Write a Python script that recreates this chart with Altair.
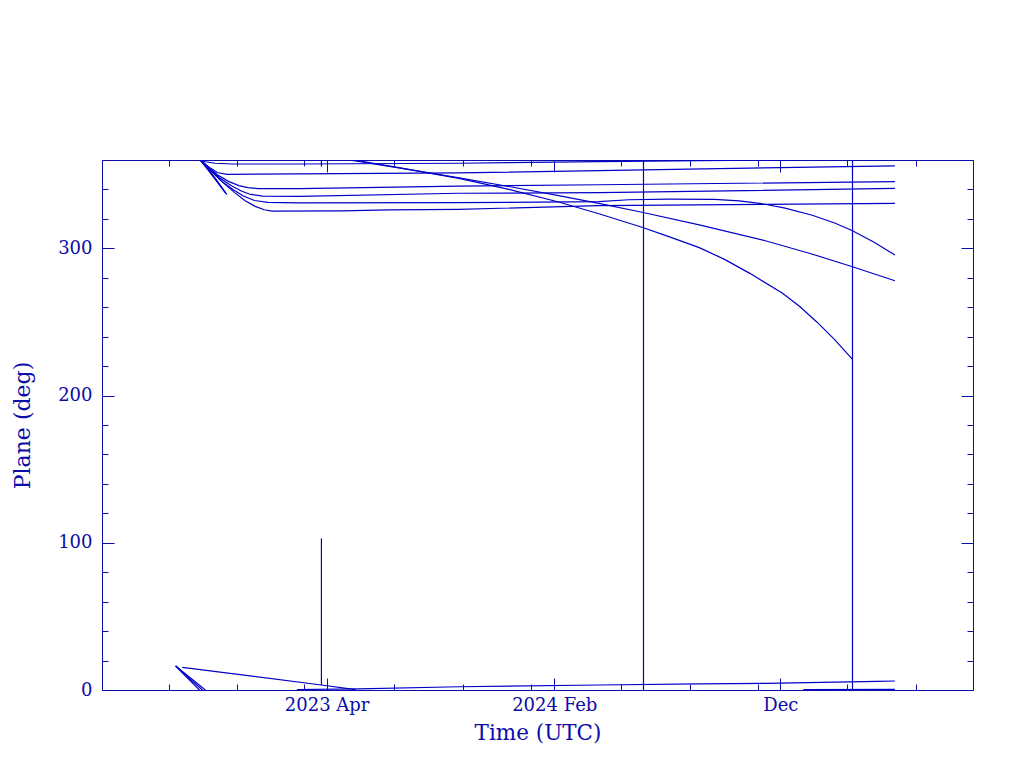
import altair as alt
import pandas as pd

# ---------------- data ----------------
# steep bundle near 16 deg falling to 0 (then wrapping to 360)
st1_d = ["2022-09-10", "2022-10-12"]; st1_v = [16.3, 0.0]
st2_d = ["2022-09-10", "2022-10-16"]; st2_v = [16.3, 0.0]
st3_d = ["2022-09-10", "2022-10-20"]; st3_v = [16.3, 0.0]

# top bundle descending from 360 to plateaus
pa_d = ["2022-10-13", "2022-10-20", "2022-11-02", "2022-11-25", "2023-02-23", "2023-09-26", "2024-04-01", "2024-08-14", "2024-12-15"]
pa_v = [360, 358.8, 357.8, 357.3, 357.3, 357.8, 358.9, 359.5, 360]
paw_d = ["2025-01-01", "2025-05-04"]; paw_v = [0.3, 0.4]

pb_d = ["2022-10-13", "2022-10-25", "2022-11-05", "2022-11-18", "2023-02-23", "2023-09-26", "2024-04-01", "2024-12-01", "2025-05-04"]
pb_v = [360, 355, 351.5, 350.3, 350.6, 351.2, 352.8, 354.8, 356]

pd_d = ["2022-10-13", "2022-11-05", "2022-11-20", "2022-12-04", "2022-12-16", "2022-12-30", "2023-02-23", "2023-09-26", "2024-04-01", "2025-05-04"]
pd_v = [360, 350, 345.5, 342.6, 341.2, 340.6, 340.5, 342.2, 343.2, 345.3]

pe_d = ["2022-10-13", "2022-11-08", "2022-11-24", "2022-12-08", "2022-12-20", "2023-01-05", "2023-02-23", "2023-09-26", "2024-04-01", "2025-05-04"]
pe_v = [360, 348, 342.5, 338.8, 336.6, 335.5, 335.3, 337.4, 337.8, 340.7]

pf_d = ["2022-10-13", "2022-11-10", "2022-11-26", "2022-12-10", "2022-12-25", "2023-01-12", "2023-02-23", "2023-09-26",
        "2024-04-01", "2024-05-11", "2024-07-05", "2024-09-03", "2024-10-07", "2024-11-03", "2024-12-06", "2025-01-13",
        "2025-02-12", "2025-03-08", "2025-04-06", "2025-05-04"]
pf_v = [360, 346, 340, 335.5, 332.5, 331.2, 330.9, 331,
        331.7, 333, 333.4, 333.2, 332.3, 330.6, 327.5, 322.5,
        317.2, 312, 304.2, 295.5]

pg_d = ["2022-10-13", "2022-11-12", "2022-11-28", "2022-12-12", "2022-12-26", "2023-01-07", "2023-01-18", "2023-04-22", "2023-06-24", "2023-09-26", "2024-04-01", "2025-05-04"]
pg_v = [360, 345, 338, 332.5, 328.5, 326.2, 325.3, 325.5, 326.1, 326.5, 329, 330.6]

sa_d = ["2022-10-13", "2022-10-30", "2022-11-11"]; sa_v = [360, 349, 341]
sb_d = ["2022-10-14", "2022-11-01", "2022-11-16"]; sb_v = [360, 348, 337.5]
sc_d = ["2022-10-15", "2022-11-03", "2022-11-18"]; sc_v = [360, 347, 336.5]

# lines crossing 0 -> 360 and descending
d1_d = ["2023-05-01", "2023-07-07", "2023-09-26", "2023-12-02", "2024-02-07", "2024-04-01", "2024-05-29",
        "2024-08-14", "2024-11-12", "2025-01-10", "2025-03-08", "2025-05-04"]
d1_v = [360, 354.6, 347.8, 342, 335.8, 330.5, 324.5,
        315.9, 305, 296.5, 287.5, 278]
d2_d = ["2023-05-08", "2023-07-07", "2023-09-26", "2023-12-02", "2024-02-07", "2024-04-01", "2024-05-29", "2024-07-05",
        "2024-08-14", "2024-09-17", "2024-10-21", "2024-12-04", "2024-12-27", "2025-01-19", "2025-02-12", "2025-03-08"]
d2_v = [360, 354.8, 347.5, 340, 331.5, 323.5, 314.3, 307.8,
        300.5, 292.5, 283, 269.5, 260.5, 250, 238, 224.6]

# bottom lines
b1_d = ["2022-09-19", "2023-03-25", "2023-05-10"]; b1_v = [15.4, 3.4, 0.2]
b2_d = ["2023-02-20", "2023-05-14", "2023-09-26", "2024-04-01", "2024-08-14", "2024-11-12", "2025-04-10", "2025-05-04"]
b2_v = [0.3, 0.8, 2.2, 3.4, 4.1, 4.5, 5.9, 6.1]

# vertical connecting segments
v1_d = ["2023-03-25", "2023-03-25"]; v1_v = [3.4, 103]
v1b_d = ["2023-03-25", "2023-03-25"]; v1b_v = [355.5, 360]
v2_d = ["2024-05-31", "2024-05-31"]; v2_v = [0, 360]
v3_d = ["2025-03-08", "2025-03-08"]; v3_v = [0, 360]

X_DOMAIN = ["2022-06-03", "2025-08-17"]
X_TICKS = ["2022-09-01", "2022-12-01", "2023-03-01", "2023-04-01", "2023-07-01", "2023-10-01",
           "2024-01-01", "2024-02-01", "2024-05-01", "2024-08-01", "2024-11-01", "2024-12-01",
           "2025-03-01", "2025-06-01"]
X_MAJOR = ["2023-04-01", "2024-02-01", "2024-12-01"]
X_LABELS = ["2023 Apr", "2024 Feb", "Dec"]
Y_TICKS = list(range(0, 361, 20))

# ---------------- build table ----------------
series = {
    "st1": (st1_d, st1_v), "st2": (st2_d, st2_v), "st3": (st3_d, st3_v),
    "pa": (pa_d, pa_v), "paw": (paw_d, paw_v), "pb": (pb_d, pb_v),
    "pd": (pd_d, pd_v), "pe": (pe_d, pe_v), "pf": (pf_d, pf_v), "pg": (pg_d, pg_v),
    "sa": (sa_d, sa_v), "sb": (sb_d, sb_v), "sc": (sc_d, sc_v),
    "d1": (d1_d, d1_v), "d2": (d2_d, d2_v),
    "b1": (b1_d, b1_v), "b2": (b2_d, b2_v),
    "v1": (v1_d, v1_v), "v1b": (v1b_d, v1b_v), "v2": (v2_d, v2_v), "v3": (v3_d, v3_v),
}
rows = []
for name, (ds, vs) in series.items():
    for i, (d, v) in enumerate(zip(ds, vs)):
        rows.append({"series": name, "idx": i, "date": d, "plane": v})
df = pd.DataFrame(rows)


def ms(d):
    return int(pd.Timestamp(d, tz="UTC").value // 10**6)


C_AX = "#0c0ca8"
C_LINE = "#0000c8"
FONT = "DejaVu Serif"
W, H = 871, 530
TL = 12

major_list = "[" + ",".join(f"'{d[:7]}'" for d in X_MAJOR) + "]"
x_major_test = f"indexof({major_list}, utcFormat(datum.value, '%Y-%m')) >= 0"
x_label_expr = " : ".join(
    f"utcFormat(datum.value, '%Y-%m') == '{d[:7]}' ? '{l}'" for d, l in zip(X_MAJOR, X_LABELS)
) + " : ''"
y_major_test = "datum.value % 100 == 0"

x_dash = {"condition": {"test": x_major_test, "value": []}, "value": [0, 6, 6]}
y_dash = {"condition": {"test": y_major_test, "value": []}, "value": [0, 6, 6]}

x_scale = alt.Scale(type="utc", domain=[ms(X_DOMAIN[0]), ms(X_DOMAIN[1])], nice=False)
y_scale = alt.Scale(domain=[0, 360], nice=False, zero=False)

common_axis = dict(grid=False, domain=False, tickSize=TL, offset=-TL, tickColor=C_AX,
                   tickWidth=1, labelFont=FONT, labelColor=C_AX, titleFont=FONT,
                   titleColor=C_AX, titleFontWeight="normal")

x_bottom = alt.Axis(orient="bottom", values=[ms(d) for d in X_TICKS], labelExpr=x_label_expr,
                    tickDash=x_dash, labelFontSize=18, labelPadding=6, labelOverlap=False,
                    labelFlush=False, labelBound=False,
                    title="Time (UTC)", titleFontSize=21.5, titleX=W / 2, titleY=61,
                    titleAlign="center", titleBaseline="alphabetic", **common_axis)
y_left = alt.Axis(orient="left", values=Y_TICKS, labelExpr=f"{y_major_test} ? datum.label : ''",
                  tickDash=y_dash, labelFontSize=18, labelPadding=10, labelOverlap=False,
                  labelFlush=False, labelBound=False,
                  title="Plane (deg)", titleFontSize=22, titleX=22 - (102 + TL), titleY=H / 2,
                  titleAngle=270, titleAlign="center", titleBaseline="middle", **common_axis)
x_top = alt.Axis(orient="top", values=[ms(d) for d in X_TICKS], labels=False, tickDash=x_dash,
                 title="", **common_axis)
y_right = alt.Axis(orient="right", values=Y_TICKS, labels=False, tickDash=y_dash,
                   title="", **common_axis)

base = alt.Chart(df).mark_line(color=C_LINE, strokeWidth=1.2, clip=True).encode(
    x=alt.X("date:T", scale=x_scale, axis=x_bottom),
    y=alt.Y("plane:Q", scale=y_scale, axis=y_left),
    detail="series:N",
    order="idx:Q",
)
frame = alt.Chart(df).mark_line(strokeOpacity=0, clip=True).encode(
    x=alt.X("date:T", scale=x_scale, axis=x_top),
    y=alt.Y("plane:Q", scale=y_scale, axis=y_right),
    detail="series:N",
    order="idx:Q",
)

chart = alt.layer(base, frame).resolve_axis(x="independent", y="independent").properties(
    width=W, height=H,
    padding={"left": 94, "top": 152, "right": 35, "bottom": 65},
    autosize=alt.AutoSizeParams(type="none"),
    background="white",
).configure_view(stroke=C_AX, strokeWidth=1)

chart.save("out.html", embed_options={"renderer": "svg", "actions": False})
